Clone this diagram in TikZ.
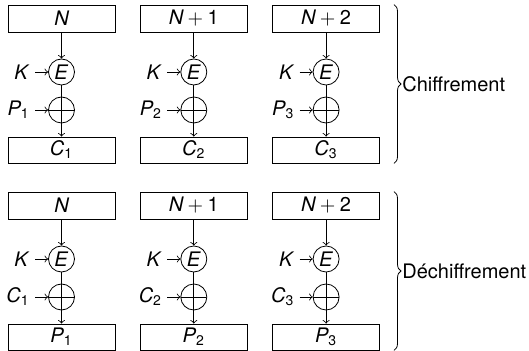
\documentclass[tikz,border=0pt]{standalone}
\usepackage{amsmath}
\usepackage{fontspec}
\setmainfont{TeX Gyre Heros}
\usetikzlibrary{positioning,calc,decorations.pathreplacing}

\newcommand{\iv}[1]{\textit{#1}}

\tikzset{%
  blk/.style={draw, minimum width=53.5pt, minimum height=13.5pt, inner sep=0pt},%
  enc/.style={draw, circle, minimum size=13pt, inner sep=0pt},%
  xorop/.style={draw, circle, minimum size=13pt, inner sep=0pt,%
    path picture={\draw (path picture bounding box.north) -- (path picture bounding box.south)
      (path picture bounding box.west) -- (path picture bounding box.east);}},%
  inp/.style={inner sep=2.5pt},%
  brc/.style={decorate, decoration={brace, amplitude=3.5pt}},%
}

\begin{document}
\begin{tikzpicture}[x=0.5pt, y=-0.5pt]
  \useasboundingbox (0, 0) rectangle (529, 351);%
  % chiffrement
  \foreach \i/\ctr [evaluate=\i as \x using 61.5+132.3*(\i-1)] in {1/{}, 2/{+\text{1}}, 3/{+\text{2}}} {%
    \node [blk] (ntop\i) at (\x, 18.5) {$\iv{N}\ctr$};%
    \node [enc] (etop\i) at (\x, 72) {\iv{E}};%
    \node [xorop] (xtop\i) at (\x, 110) {};%
    \node [blk, minimum height=13pt] (ctop\i) at (\x, 150) {$\iv{C}_{\text{\i}}$};%
    \node [inp, left=6.5pt of etop\i] (ktop\i) {\iv{K}};%
    \node [inp, left=6.5pt of xtop\i] (ptop\i) {$\iv{P}_{\text{\i}}$};%
    \draw [->] (ntop\i) -- (etop\i);%
    \draw (etop\i) -- (xtop\i);%
    \draw [->] (xtop\i) -- (ctop\i);%
    \draw [->] (ktop\i) -- (etop\i);%
    \draw [->] (ptop\i) -- (xtop\i);%
  }%
  % dechiffrement
  \foreach \i/\ctr [evaluate=\i as \x using 61.5+132.3*(\i-1)] in {1/{}, 2/{+\text{1}}, 3/{+\text{2}}} {%
    \node [blk] (nbot\i) at (\x, 205.5) {$\iv{N}\ctr$};%
    \node [enc] (ebot\i) at (\x, 259) {\iv{E}};%
    \node [xorop] (xbot\i) at (\x, 297) {};%
    \node [blk, minimum height=13pt] (pbot\i) at (\x, 337) {$\iv{P}_{\text{\i}}$};%
    \node [inp, left=6.5pt of ebot\i] (kbot\i) {\iv{K}};%
    \node [inp, left=6.5pt of xbot\i] (cbot\i) {$\iv{C}_{\text{\i}}$};%
    \draw [->] (nbot\i) -- (ebot\i);%
    \draw (ebot\i) -- (xbot\i);%
    \draw [->] (xbot\i) -- (pbot\i);%
    \draw [->] (kbot\i) -- (ebot\i);%
    \draw [->] (cbot\i) -- (xbot\i);%
  }%
  \draw [brc] ($(ntop3.north east)+(14, 0)$) -- ($(ctop3.south east)+(14, 0)$)%
    node [midway, right, xshift=3.5pt, inner sep=0.5pt] (chif) {Chiffrement};%
  \draw [brc] ($(nbot3.north east)+(14, 0)$) -- ($(pbot3.south east)+(14, 0)$)%
    node [midway, right, xshift=3.5pt, inner sep=0.5pt] (dechif) {Déchiffrement};%
\end{tikzpicture}
\end{document}
